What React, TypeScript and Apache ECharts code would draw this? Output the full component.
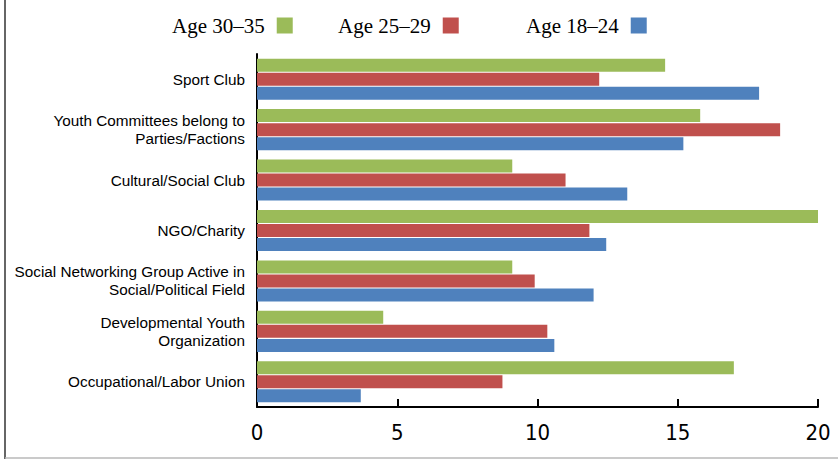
import React, { useEffect, useRef } from "react";
import * as echarts from "echarts";

// Categories, listed from top to bottom
const categories: string[] = [
  "Sport Club",
  "Youth Committees belong to\nParties/Factions",
  "Cultural/Social Club",
  "NGO/Charity",
  "Social Networking Group Active in\nSocial/Political Field",
  "Developmental Youth\nOrganization",
  "Occupational/Labor Union",
];

const seriesNames: string[] = ["Age 30–35", "Age 25–29", "Age 18–24"];

const age30to35: number[] = [14.55, 15.8, 9.1, 20.0, 9.1, 4.5, 17.0];
const age25to29: number[] = [12.2, 18.65, 11.0, 11.85, 9.9, 10.35, 8.75];
const age18to24: number[] = [17.9, 15.2, 13.2, 12.45, 12.0, 10.6, 3.7];

const xTicks: number[] = [0, 5, 10, 15, 20];

const colors = ["#9BBB59", "#C0504D", "#4F81BD"];

// Left edge of each legend entry (text first, swatch after it)
const legendLefts = [167, 333, 521];

export default function App() {
  const ref = useRef<HTMLDivElement>(null);

  useEffect(() => {
    if (!ref.current) return;
    const chart = echarts.init(ref.current, undefined, { renderer: "svg" });
    const values = [age30to35, age25to29, age18to24];

    chart.setOption({
      animation: false,
      backgroundColor: "#ffffff",
      legend: seriesNames.map((name, i) => ({
        left: legendLefts[i],
        top: 10,
        align: "right",
        itemWidth: 16,
        itemHeight: 16,
        icon: "rect",
        data: [name],
        textStyle: {
          fontFamily: "'Liberation Serif', 'DejaVu Serif', serif",
          fontSize: 21,
          color: "#000",
          padding: [0, 7, 0, 0],
        },
      })),
      grid: {
        left: 257,
        right: 20,
        top: 54,
        bottom: 52,
        containLabel: false,
      },
      xAxis: {
        type: "value",
        min: xTicks[0],
        max: xTicks[xTicks.length - 1],
        interval: 5,
        axisLine: { show: true, lineStyle: { color: "#000", width: 2 } },
        axisTick: {
          show: true,
          inside: true,
          length: 8,
          lineStyle: { color: "#000", width: 2 },
        },
        splitLine: { show: false },
        axisLabel: {
          margin: 14,
          fontFamily:
            "'Liberation Sans Narrow', 'DejaVu Sans Condensed', 'Liberation Sans', sans-serif",
          fontSize: 22,
          color: "#000",
        },
      },
      yAxis: {
        type: "category",
        inverse: true,
        data: categories,
        axisLine: { show: true, lineStyle: { color: "#000", width: 2 } },
        axisTick: { show: false },
        axisLabel: {
          margin: 12,
          fontFamily: "'Liberation Sans', Arial, sans-serif",
          fontSize: 15.3,
          lineHeight: 18,
          color: "#000",
        },
      },
      graphic: [
        {
          type: "line",
          shape: { x1: 5, y1: 0, x2: 5, y2: 459 },
          style: { stroke: "#333", lineWidth: 1.5 },
          silent: true,
        },
        {
          type: "line",
          shape: { x1: 5, y1: 458, x2: 838, y2: 458 },
          style: { stroke: "#b8b8b8", lineWidth: 1.5 },
          silent: true,
        },
      ],
      series: seriesNames.map((name, i) => ({
        name,
        type: "bar",
        data: values[i],
        barWidth: 13,
        barGap: "8%",
        itemStyle: { color: colors[i] },
      })),
    });

    return () => chart.dispose();
  }, []);

  return (
    <div
      ref={ref}
      style={{ position: "fixed", left: 0, top: 0, width: 838, height: 459 }}
    />
  );
}
